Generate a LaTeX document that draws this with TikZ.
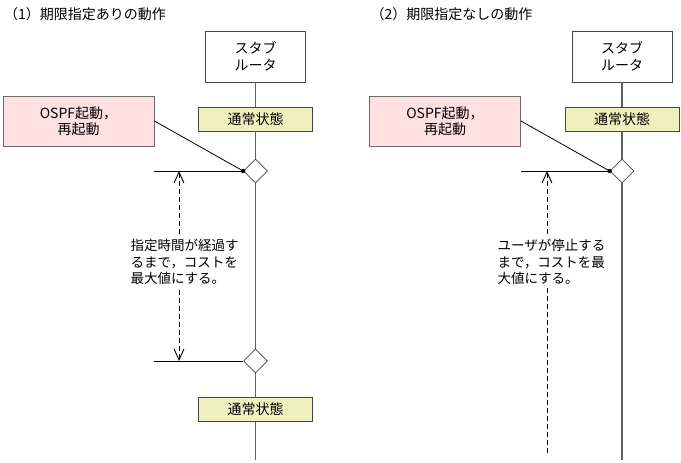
\documentclass[tikz,border=0pt]{standalone}
\usepackage{fontspec}
\setmainfont{Noto Sans CJK JP}
\usetikzlibrary{arrows.meta,positioning,shapes.geometric}
\definecolor{stpink}{RGB}{255,224,224}
\definecolor{styellow}{RGB}{240,240,190}
\definecolor{stline}{RGB}{95,95,95}
\definecolor{stedge}{RGB}{70,70,70}

\begin{document}
\begin{tikzpicture}[x=1pt,y=-1pt,
  every node/.style={font=\fontsize{14}{16.5}\selectfont},
  routerbox/.style={draw=stedge, fill=white, minimum width=100pt, minimum height=51pt, align=center, line width=0.9pt},
  statebox/.style={draw=stedge, fill=styellow, minimum width=114pt, minimum height=24pt, line width=0.9pt},
  eventbox/.style={draw=stedge!80, fill=stpink, minimum width=151pt, minimum height=50pt, align=center, line width=0.9pt},
  junction/.style={diamond, draw=stedge, fill=white, minimum size=24pt, inner sep=0pt, line width=0.7pt},
  lifeline/.style={draw=stline, line width=1.3pt},
  note/.style={align=left, anchor=west, font=\fontsize{13.5}{16.5}\selectfont},
  wait/.style={line width=0.9pt, dash pattern=on 5pt off 3pt},
  tip/.style={{Straight Barb[length=11pt,width=10pt]}-}]
\useasboundingbox (0,0) rectangle (681,463);

% (1) with time limit
\node[anchor=west, inner sep=0pt] (titleA) at (4,14) {（1）期限指定ありの動作};
\node[routerbox] (routerA) at (255.5,56.5) {スタブ\\ルータ};
\node[statebox] (stateA) at (255.5,119) {通常状態};
\node[eventbox] (eventA) at (78.5,121) {OSPF起動，\\再起動};
\node[junction] (startA) at (255.5,171) {};
\node[junction] (endA) at (255.5,361) {};
\node[statebox] (stateB) at (255.5,409.5) {通常状態};
\coordinate (bottomA) at (255.5,460);
\coordinate (inA) at (154,171);
\coordinate (outA) at (154,361);
\coordinate (topA) at (179,171);
\coordinate (lowA) at (179,361);
\node[note] (noteA) at (127,262) {指定時間が経過す\\るまで，コストを\\最大値にする。};
\draw[lifeline] (routerA) -- (stateA) -- (startA) -- (endA) -- (stateB) -- (bottomA);
\draw[line width=0.8pt] (eventA.east) -- (startA.west);
\draw[line width=0.9pt] (inA) -- (startA.west);
\draw[line width=0.9pt] (outA) -- (endA.west);
\fill (startA.west) circle (2.2pt);
\draw[wait, tip] (topA) -- (topA |- noteA.north);
\draw[wait, tip] (lowA) -- (lowA |- noteA.south);

% (2) without time limit
\node[anchor=west, inner sep=0pt] (titleC) at (370.5,14) {（2）期限指定なしの動作};
\node[routerbox] (routerC) at (622,56.5) {スタブ\\ルータ};
\node[statebox] (stateC) at (622,119) {通常状態};
\node[eventbox] (eventC) at (445,121) {OSPF起動，\\再起動};
\node[junction] (startC) at (622,171) {};
\coordinate (bottomC) at (622,460);
\coordinate (inC) at (521,171);
\coordinate (topC) at (547,171);
\coordinate (lowC) at (547,453);
\node[note] (noteC) at (494,262) {ユーザが停止する\\まで，コストを最\\大値にする。};
\draw[lifeline] (routerC) -- (stateC) -- (startC) -- (bottomC);
\draw[line width=0.8pt] (eventC.east) -- (startC.west);
\draw[line width=0.9pt] (inC) -- (startC.west);
\fill (startC.west) circle (2.2pt);
\draw[wait, tip] (topC) -- (topC |- noteC.north);
\draw[wait] (lowC |- noteC.south) -- (lowC);
\end{tikzpicture}
\end{document}
